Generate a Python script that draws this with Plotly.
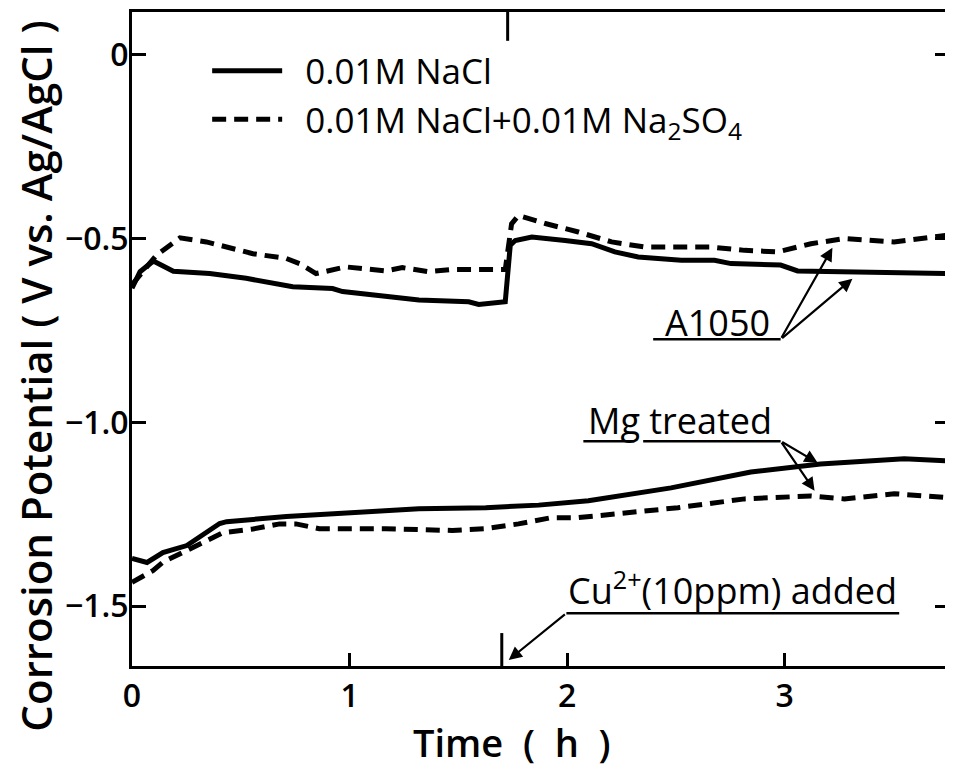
import plotly.graph_objects as go

# ---- data (Time in h, potential in V vs Ag/AgCl) ----
a_nacl_t = [0.0, 0.037, 0.098, 0.19, 0.357, 0.525, 0.739, 0.922, 0.968, 1.319, 1.548, 1.594, 1.716,
            1.739, 1.762, 1.838, 1.991, 2.113, 2.22, 2.327, 2.525, 2.678, 2.754, 2.982, 3.06, 3.289, 3.518, 3.756]
a_nacl_e = [-0.635, -0.59, -0.561, -0.589, -0.595, -0.608, -0.631, -0.636, -0.644, -0.667, -0.672, -0.679, -0.672,
            -0.518, -0.505, -0.496, -0.505, -0.514, -0.536, -0.55, -0.559, -0.559, -0.568, -0.572, -0.588, -0.59, -0.595, -0.595]

a_so4_t = [0.0, 0.113, 0.22, 0.342, 0.556, 0.709, 0.77, 0.846, 0.983, 1.167, 1.243, 1.365, 1.472, 1.716,
           1.745, 1.777, 1.90, 2.052, 2.205, 2.358, 2.663, 2.816, 2.968, 3.121, 3.274, 3.503, 3.756]
a_so4_e = [-0.625, -0.545, -0.498, -0.509, -0.541, -0.554, -0.568, -0.595, -0.577, -0.588, -0.579, -0.59, -0.584, -0.584,
           -0.46, -0.437, -0.459, -0.482, -0.509, -0.523, -0.523, -0.532, -0.536, -0.514, -0.50, -0.509, -0.49]

mg_nacl_t = [0.0, 0.069, 0.142, 0.252, 0.403, 0.435, 0.71, 1.012, 1.319, 1.626, 1.869, 2.098, 2.478, 2.845, 3.165, 3.55, 3.756]
mg_nacl_e = [-1.37, -1.381, -1.354, -1.335, -1.275, -1.27, -1.256, -1.245, -1.235, -1.232, -1.225, -1.213, -1.178, -1.135, -1.113, -1.099, -1.105]

mg_so4_t = [0.0, 0.096, 0.142, 0.418, 0.556, 0.679, 0.754, 0.861, 1.167, 1.472, 1.625, 1.777, 1.929, 2.052, 2.51, 2.817, 3.12, 3.275, 3.504, 3.756]
mg_so4_e = [-1.435, -1.403, -1.38, -1.30, -1.29, -1.276, -1.276, -1.289, -1.289, -1.294, -1.289, -1.276, -1.259, -1.259, -1.232, -1.208, -1.20, -1.208, -1.194, -1.205]

legend_names = ["\u00a0\u00a00.01M NaCl", "\u00a0\u00a00.01M NaCl+0.01M Na<sub>2</sub>SO<sub>4</sub>"]
x_ticks = [0, 1, 2, 3]
x_ticktext = ["0", "1", "2", "3"]
y_ticks = [0, -0.5, -1.0, -1.5]
y_ticktext = ["0", "\u22120.5", "\u22121.0", "\u22121.5"]

cu_time = 1.72

FONT = "Open Sans"
BLACK = "black"

fig = go.Figure()
solid = dict(color=BLACK, width=5)
dashed = dict(color=BLACK, width=5, dash="14px,8px")

fig.add_trace(go.Scatter(x=a_nacl_t, y=a_nacl_e, mode="lines", line=solid, name=legend_names[0],
                         legendgroup="nacl", showlegend=True))
fig.add_trace(go.Scatter(x=a_so4_t, y=a_so4_e, mode="lines", line=dashed, name=legend_names[1],
                         legendgroup="so4", showlegend=True))
fig.add_trace(go.Scatter(x=mg_nacl_t, y=mg_nacl_e, mode="lines", line=solid, name=legend_names[0],
                         legendgroup="nacl", showlegend=False))
fig.add_trace(go.Scatter(x=mg_so4_t, y=mg_so4_e, mode="lines", line=dashed, name=legend_names[1],
                         legendgroup="so4", showlegend=False))

xr = [0, 3.756]
yr = [-1.6626, 0.1164]

# Cu addition markers (bottom and top)
fig.add_shape(type="line", x0=1.70, x1=1.70, y0=-1.573, y1=yr[0], line=dict(color=BLACK, width=3))
fig.add_shape(type="line", x0=1.727, x1=1.727, y0=0.038, y1=yr[1], line=dict(color=BLACK, width=3))

# underlines
fig.add_shape(type="line", x0=2.396, x1=2.982, y0=-0.774, y1=-0.774, line=dict(color=BLACK, width=2.5))
fig.add_shape(type="line", x0=2.075, x1=2.31, y0=-1.051, y1=-1.051, line=dict(color=BLACK, width=2.5))
fig.add_shape(type="line", x0=2.35, x1=2.982, y0=-1.051, y1=-1.051, line=dict(color=BLACK, width=2.5))
fig.add_shape(type="line", x0=1.997, x1=3.527, y0=-1.519, y1=-1.519, line=dict(color=BLACK, width=2.5))

tfont = dict(family=FONT, size=36, color=BLACK, weight=500)

ann = []
ann.append(dict(x=2.69, y=-0.728, xref="x", yref="y", text="A1050", showarrow=False, font=tfont))
ann.append(dict(x=2.52, y=-0.995, xref="x", yref="y", text="Mg treated", showarrow=False, font=tfont))
ann.append(dict(x=2.762, y=-1.452, xref="x", yref="y", text="Cu<sup>2+</sup>(10ppm) added", showarrow=False, font=tfont))

arrow_common = dict(xref="x", yref="y", axref="x", ayref="y", showarrow=True, text="",
                    arrowhead=2, arrowsize=1.2, arrowwidth=2.2, arrowcolor=BLACK)
# A1050 arrows
ann.append(dict(x=3.22, y=-0.525, ax=2.982, ay=-0.774, **arrow_common))
ann.append(dict(x=3.312, y=-0.609, ax=2.982, ay=-0.774, **arrow_common))
# Mg treated arrows
ann.append(dict(x=3.152, y=-1.110, ax=2.982, ay=-1.051, **arrow_common))
ann.append(dict(x=3.138, y=-1.186, ax=2.982, ay=-1.051, **arrow_common))
# Cu arrow
ann.append(dict(x=1.732, y=-1.646, ax=1.997, ay=-1.519, **arrow_common))

# axis titles
ann.append(dict(x=-0.1183, y=0.443, xref="paper", yref="paper", xanchor="center", yanchor="middle",
                text="Corrosion Potential ( V vs. Ag/AgCl )",
                textangle=-90, showarrow=False, font=dict(family=FONT, size=42, color=BLACK, weight=600)))
ann.append(dict(x=0.465, y=-0.116, xref="paper", yref="paper", xanchor="center", yanchor="middle",
                text="Time  (  h  )",
                showarrow=False, font=dict(family=FONT, size=38, color=BLACK, weight=600)))

fig.update_layout(
    width=945, height=761,
    margin=dict(l=124, r=1, t=1, b=103),
    paper_bgcolor="white", plot_bgcolor="white",
    annotations=ann,
    showlegend=True,
    legend=dict(x=0.092, y=0.955, xanchor="left", yanchor="top", bgcolor="rgba(0,0,0,0)",
                font=dict(family=FONT, size=35, color=BLACK, weight=500), itemwidth=70, tracegroupgap=0),
)
fig.update_xaxes(range=xr, tickvals=x_ticks, ticktext=x_ticktext, ticks="inside", ticklen=13, tickwidth=3,
                 tickcolor=BLACK, showline=True, linewidth=3, linecolor=BLACK, mirror=True,
                 showgrid=False, zeroline=False,
                 tickfont=dict(family=FONT, size=32, color=BLACK, weight=600))
fig.update_yaxes(range=yr, tickvals=y_ticks, ticktext=y_ticktext, ticks="inside", ticklen=14, tickwidth=3,
                 tickcolor=BLACK, showline=True, linewidth=3, linecolor=BLACK, mirror="ticks",
                 showgrid=False, zeroline=False, ticklabelstandoff=-6,
                 tickfont=dict(family=FONT, size=32, color=BLACK, weight=600))

fig.write_html("out.html")
